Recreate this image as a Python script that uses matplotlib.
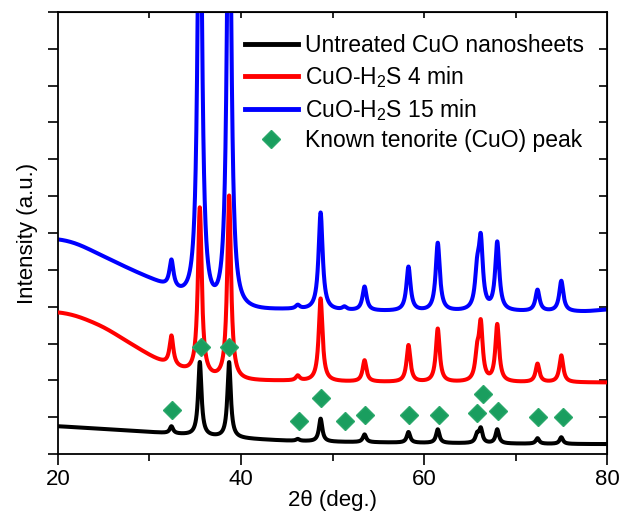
import numpy as np
import matplotlib
matplotlib.use("Agg")
import matplotlib.pyplot as plt
from matplotlib.lines import Line2D

plt.rcParams['font.family'] = ['Liberation Sans', 'DejaVu Sans']
plt.rcParams['mathtext.default'] = 'regular'

# Posições dos picos (2θ, graus)
peak_pos = [32.4, 35.5, 38.7, 46.2, 48.7, 51.3, 53.5, 58.3, 61.5, 65.8, 66.2, 68.0, 72.4, 75.0]

# Alturas dos picos acima da linha de base (u.a.)
black_h = [0.19, 2.0, 2.05, 0.05, 0.62, 0.0, 0.21, 0.29, 0.37, 0.22, 0.38, 0.38, 0.15, 0.18]
red_h = [0.8, 4.55, 5.0, 0.13, 2.25, 0.0, 0.58, 1.0, 1.45, 0.65, 1.5, 1.55, 0.5, 0.73]
blue_h = [0.75, 14.0, 14.0, 0.10, 2.65, 0.08, 0.65, 1.2, 1.85, 0.9, 1.8, 1.85, 0.58, 0.83]

# Linha de base (2θ, intensidade)
bg_x = [20, 22, 25, 28, 31, 34, 37, 40, 45, 50, 60, 70, 78, 80]
black_bg = [0.76, 0.72, 0.68, 0.63, 0.58, 0.52, 0.46, 0.42, 0.36, 0.33, 0.30, 0.28, 0.27, 0.27]
red_bg = [3.86, 3.76, 3.45, 2.98, 2.52, 2.22, 2.0, 1.98, 1.98, 1.96, 1.94, 1.94, 1.94, 1.94]
blue_bg = [5.84, 5.72, 5.35, 4.98, 4.62, 4.15, 3.75, 3.85, 3.90, 3.88, 3.86, 3.86, 3.86, 3.93]

# Picos conhecidos de tenorita (marcadores)
ref_x = [32.5, 35.6, 38.7, 46.3, 48.7, 51.4, 53.5, 58.4, 61.6, 65.8, 66.4, 68.1, 72.4, 75.2]
ref_y = [1.19, 2.91, 2.91, 0.90, 1.52, 0.90, 1.06, 1.06, 1.06, 1.11, 1.63, 1.17, 1.0, 1.0]


def pattern(x, bg, heights, width):
    base = np.interp(x, bg_x, bg)
    # suavizar a linha de base
    k = np.exp(-0.5 * (np.arange(-300, 301) * (x[1] - x[0]) / 0.9) ** 2)
    k /= k.sum()
    base = np.convolve(np.pad(base, 300, mode='edge'), k, mode='valid')
    y = base
    for p, h in zip(peak_pos, heights):
        y = y + h / (1 + ((x - p) / width) ** 2)
    return y


x = np.linspace(20, 80, 4001)

fig = plt.figure(figsize=(6.22, 5.14), dpi=100)
ax = fig.add_axes([0.0932, 0.1167, 0.976 - 0.0932, 0.9767 - 0.1167])

ax.plot(x, pattern(x, black_bg, black_h, 0.22), color='#000', lw=2.9, zorder=1)
ax.plot(x, pattern(x, blue_bg, blue_h, 0.27), color='#0000ff', lw=2.9, zorder=2)
ax.plot(x, pattern(x, red_bg, red_h, 0.25), color='#ff0000', lw=2.9, zorder=3)
ax.plot(ref_x, ref_y, 'D', color='#1a9e5f', ms=9, mec='#2aa86a', zorder=4)

ax.set_xlim(20, 80)
ax.set_ylim(0, 12)
ax.set_xticks([20, 40, 60, 80])
ax.set_xticks([30, 50, 70], minor=True)
ax.set_yticks(range(0, 13))
ax.set_yticklabels([])
ax.tick_params(axis='x', which='major', direction='out', length=8, width=1.2, labelsize=16, pad=3)
ax.tick_params(axis='x', which='minor', direction='out', length=5, width=1.2)
ax.tick_params(axis='y', direction='out', length=7, width=1.2)
for s in ax.spines.values():
    s.set_linewidth(1.3)

top = ax.secondary_xaxis('top')
top.set_xticks([30, 40, 50, 60, 70])
top.set_xticklabels([])
top.tick_params(direction='in', length=4, width=1.2)
right = ax.secondary_yaxis('right')
right.set_yticks(range(1, 12))
right.set_yticklabels([])
right.tick_params(direction='in', length=6, width=1.2)

ax.set_xlabel('2θ (deg.)', fontsize=16, labelpad=0)
ax.set_ylabel('Intensity (a.u.)', fontsize=16, labelpad=4)

handles = [
    Line2D([], [], color='#000', lw=3.5),
    Line2D([], [], color='#ff0000', lw=3.5),
    Line2D([], [], color='#0000ff', lw=3.5),
    Line2D([], [], ls='none', marker='D', color='#1a9e5f', ms=9, mec='#2aa86a'),
]
labels = ['Untreated CuO nanosheets', 'CuO-H$_2$S 4 min', 'CuO-H$_2$S 15 min',
          'Known tenorite (CuO) peak']
fig.legend(handles, labels, loc='upper left', bbox_to_anchor=(245 / 622, 1 - 34 / 514),
           frameon=False, fontsize=16.5, handlelength=2.3, handletextpad=0.3,
           labelspacing=0.3, borderpad=0, borderaxespad=0)

fig.savefig('out.png', dpi=100)
